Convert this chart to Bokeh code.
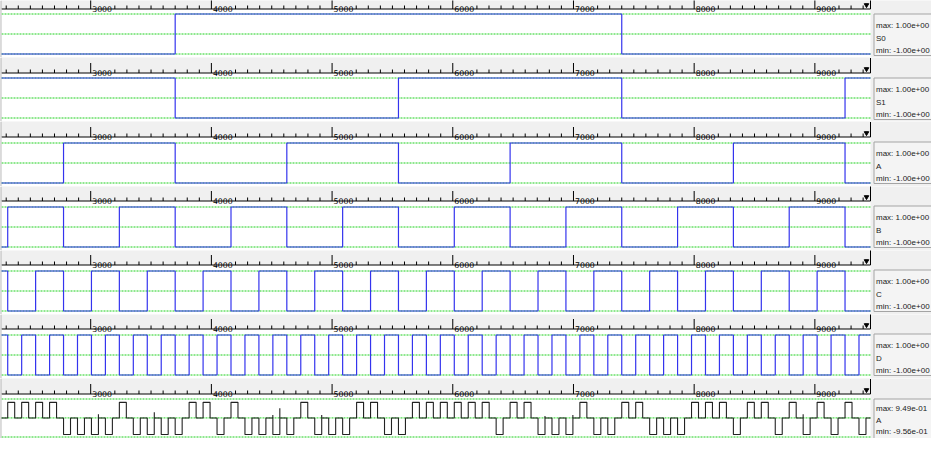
from bokeh.plotting import figure
from bokeh.layouts import column
from bokeh.models import Range1d
from bokeh.core.properties import value
from bokeh.embed import file_html
from bokeh.resources import INLINE

# ---------------- data ----------------
STEP = 115.625            # length of one counter step (time units)
FIRST_STEP = 19           # index of the first listed step
T_START, T_END = 2261, 9461   # visible time window

MAJOR_TICKS = [3000, 4000, 5000, 6000, 7000, 8000, 9000]
MAJOR_LABELS = ["3000", "4000", "5000", "6000", "7000", "8000", "9000"]
MINOR_STEP = 100

NAMES = ["S0", "S1", "A", "B", "C", "D", "A"]
MAX_LABELS = ["1.00e+00"] * 6 + ["9.49e-01"]
MIN_LABELS = ["-1.00e+00"] * 6 + ["-9.56e-01"]
VMAX = [1.0, 1.0, 1.0, 1.0, 1.0, 1.0, 0.949]
VMIN = [-1.0, -1.0, -1.0, -1.0, -1.0, -1.0, -0.956]

# logic levels per step, steps 19 | 20-23 | 24-27 | ... | 80-81
S0_BITS = "0 0000 0000 0000 1111 1111 1111 1111 1111 1111 1111 1111 0000 0000 0000 0000 00"
S1_BITS = "1 1111 1111 1111 0000 0000 0000 0000 1111 1111 1111 1111 0000 0000 0000 0000 11"
A_BITS  = "0 0000 1111 1111 0000 0000 1111 1111 0000 0000 1111 1111 0000 0000 1111 1111 00"
B_BITS  = "0 1111 0000 1111 0000 1111 0000 1111 0000 1111 0000 1111 0000 1111 0000 1111 00"
C_BITS  = "1 0011 0011 0011 0011 0011 0011 0011 0011 0011 0011 0011 0011 0011 0011 0011 00"
D_BITS  = "1 0101 0101 0101 0101 0101 0101 0101 0101 0101 0101 0101 0101 0101 0101 0101 01"

# analog output: pulse sign per step (+ high, - low, 0 none)
OUT_SYMBOLS = "0 ++++ ---- +--- -++- +--- -+-- -++- -+++ +++- ++-- -+-- ++-- -+++ -++- +-+- +-"
OUT_HIGH, OUT_LOW = 0.78, -0.83
OUT_PULSE = 0.5           # pulse length as a fraction of a step
GLITCH_T = [3064, 3527, 4509, 4567, 4914, 6764, 6995, 8903]
GLITCH_V = [0.18, 0.28, 0.15, 0.48, 0.15, 0.10, 0.15, 0.18]

SIGNALS = [S0_BITS, S1_BITS, A_BITS, B_BITS, C_BITS, D_BITS, None]

# ---------------- layout ----------------
W = 931
HEIGHTS = [57, 64, 65, 64, 64, 64, 60]
RULER_LINE = [8.5, 15.5, 15.5, 14.5, 14.5, 14.5, 15.5]
TOP_PX = [13.5, 20.5, 21.5, 20.5, 20.5, 20.5, 20.5]
BOT_PX = [53.5, 60.5, 61.5, 60.5, 60.5, 60.5, 58.5]
LABEL_BASE = [[16.3, 29.0, 41.5]] * 6 + [[14.3, 26.0, 37.7]]
SIG_PX = 869.0
X_FULL_END = T_START + (T_END - T_START) * (W - 1) / SIG_PX
RULER_FONT = value("DejaVu Sans")
LABEL_FONT = value("Liberation Sans")
GREEN = "#1fd01f"
BLUE = "#3434ee"


def clean(s):
    return "".join(s.split())


def make_panel(k):
    H = HEIGHTS[k]
    L = RULER_LINE[k]
    vmax, vmin = VMAX[k], VMIN[k]
    top_px, bot_px = TOP_PX[k], BOT_PX[k]
    s = (vmax - vmin) / (bot_px - top_px)
    y_hi = vmax + top_px * s
    y_lo = vmin - (H - bot_px) * s

    p = figure(width=W, height=H, x_range=Range1d(T_START, X_FULL_END),
               y_range=Range1d(y_lo, y_hi), output_backend="svg",
               toolbar_location=None, x_axis_type=None, y_axis_type=None,
               min_border_left=1, min_border_right=0, min_border_top=0,
               min_border_bottom=0)
    p.extra_x_ranges = {"px": Range1d(1, W)}
    p.extra_y_ranges = {"px": Range1d(H, 0)}
    p.background_fill_color = "#f0f0f0"
    p.border_fill_color = "#6e6e6e"
    p.outline_line_color = None
    p.grid.visible = False

    # white plotting area
    p.quad(left=[1], right=[1 + SIG_PX], top=[L], bottom=[H],
           x_range_name="px", y_range_name="px",
           fill_color="white", line_color=None)

    # ruler
    minor = [t for t in range(2300, T_END, MINOR_STEP)
             if t > T_START and t % 1000 not in (0, 100)]
    p.segment(x0=minor, x1=minor, y0=[L] * len(minor), y1=[L - 3.5] * len(minor),
              y_range_name="px", line_color="black", line_width=1)
    p.segment(x0=MAJOR_TICKS, x1=MAJOR_TICKS, y0=[L] * 7, y1=[L - 10] * 7,
              y_range_name="px", line_color="black", line_width=1)
    p.text(x=MAJOR_TICKS, y=[L - 0.3] * 7, text=MAJOR_LABELS, x_offset=1.5,
           y_range_name="px", text_font=RULER_FONT, text_font_size="7.8px",
           text_color="black", text_align="left", text_baseline="alphabetic")
    p.segment(x0=[T_START], x1=[T_END], y0=[L], y1=[L], y_range_name="px",
              line_color="black", line_width=1)
    p.segment(x0=[T_END], x1=[T_END], y0=[L - 15], y1=[L], y_range_name="px",
              line_color="black", line_width=1)
    p.scatter(x=[866], y=[L - 4], x_range_name="px", y_range_name="px",
              marker="inverted_triangle", size=4.5, fill_color="black",
              line_color="black")

    # reference lines at max / 0 / min
    p.segment(x0=[T_START] * 3, x1=[T_END] * 3, y0=[vmax, 0, vmin], y1=[vmax, 0, vmin],
              line_color=GREEN, line_width=1, line_dash="2 1")

    # signal
    bits = SIGNALS[k]
    if bits is not None:
        lv = [1.0 if c == "1" else -1.0 for c in clean(bits)]
        xs = [(FIRST_STEP + i) * STEP for i in range(len(lv))] + [T_END]
        ys = lv + [lv[-1]]
        p.step(xs, ys, mode="after", line_color=BLUE, line_width=1.2)
    else:
        lvl = {"+": OUT_HIGH, "-": OUT_LOW, "0": 0.0}
        xs, ys = [], []
        for i, c in enumerate(clean(OUT_SYMBOLS)):
            t0 = (FIRST_STEP + i) * STEP
            t1 = t0 + OUT_PULSE * STEP
            v = lvl[c]
            xs += [t0, t0, t1, t1]
            ys += [0.0, v, v, 0.0]
        xs.append(T_END)
        ys.append(0.0)
        p.line(xs, ys, line_color="#222222", line_width=1.1)
        p.segment(x0=GLITCH_T, x1=GLITCH_T, y0=[0.0] * len(GLITCH_T), y1=GLITCH_V,
                  line_color="#222222", line_width=1.1)

    # label box on the right
    p.quad(left=[873.5], right=[945], top=[L + 5], bottom=[L + 46.5],
           x_range_name="px", y_range_name="px",
           fill_color="#f4f4f4", line_color="#a4a4a4", line_width=1)
    p.text(x=[875.5] * 3, y=[L + b for b in LABEL_BASE[k]],
           text=["max: " + MAX_LABELS[k], NAMES[k], "min: " + MIN_LABELS[k]],
           x_range_name="px", y_range_name="px", text_font=LABEL_FONT,
           text_font_size="8px", text_color="#1a1a1a", text_align="left",
           text_baseline="alphabetic")
    return p


figs = [make_panel(k) for k in range(7)]
layout = column(*figs, spacing=0)
open("out.html", "w").write(file_html(layout, INLINE))
